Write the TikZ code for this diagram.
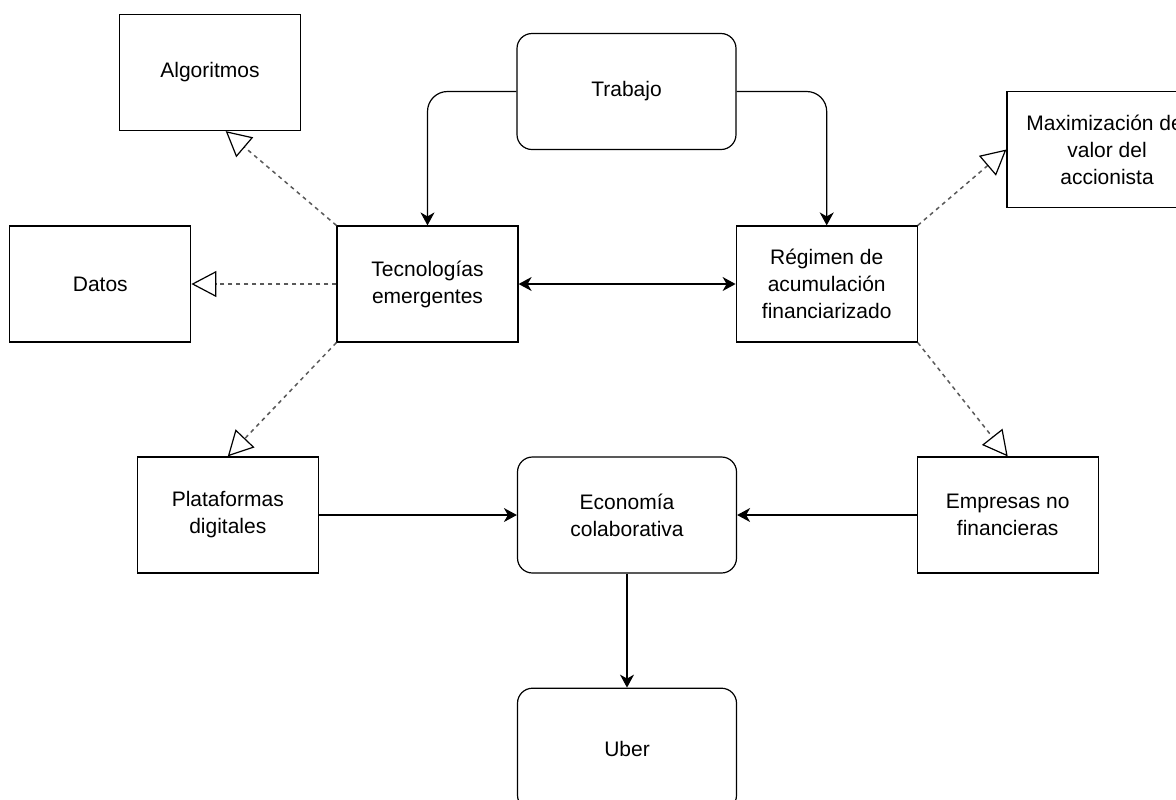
\documentclass[tikz,border=0pt]{standalone}
\usepackage{fontspec}
\setmainfont{Liberation Sans}
\usetikzlibrary{positioning,arrows.meta}

\begin{document}
\begin{tikzpicture}[
    x=0.5pt, y=-0.5pt,
    font=\fontsize{10.5}{13.5}\selectfont,
    >={Stealth[length=6.5pt, width=7pt, inset=2pt]},
    box/.style={draw, line width=0.6pt, minimum width=90.5pt, minimum height=58pt, align=center, inner sep=1pt},
    roundbox/.style={box, rounded corners=7.5pt, minimum width=109.5pt},
    link/.style={->, line width=0.6pt},
    dep/.style={-{Triangle[open, length=12.5pt, width=13pt, color=black, fill=white, line width=0.6pt]}, line width=0.75pt, draw=black!65, dash pattern=on 2pt off 2pt},
  ]
    \useasboundingbox (0,0) rectangle (1176,799);

    \node[box] (tec) at (427.5,284) {Tecnologías\\emergentes};
    \node[box, right=108.5pt of tec] (reg) {Régimen de\\acumulación\\financiarizado};
    \node[box, left=72.5pt of tec] (datos) {Datos};
    \node[box] (alg) at (210,72.5) {Algoritmos};
    \node[box, minimum width=100pt] (max) at (1107,149.5) {Maximización del\\valor del\\accionista};
    \node[roundbox] (trab) at (626.5,91.5) {Trabajo};

    \node[roundbox] (eco) at (627,515) {Economía\\colaborativa};
    \node[box, left=99pt of eco] (plat) {Plataformas\\digitales};
    \node[box, right=89.75pt of eco] (emp) {Empresas no\\financieras};
    \node[roundbox, below=57pt of eco, minimum height=61pt] (uber) {Uber};

    \draw[link, rounded corners=10pt] (trab.west) -| (tec.north);
    \draw[link, rounded corners=10pt] (trab.east) -| (reg.north);
    \draw[link, <->, line width=0.7pt] (tec) -- (reg);

    \draw[dep] (tec.north west) -- (alg.-75);
    \draw[dep] (tec.west) -- (datos.east);
    \draw[dep] (tec.south west) -- (plat.north);
    \draw[dep] (reg.north east) -- (max.west);
    \draw[dep] (reg.south east) -- (emp.north);

    \draw[link] (plat) -- (eco);
    \draw[link] (emp) -- (eco);
    \draw[link] (eco) -- (uber);
  \end{tikzpicture}
\end{document}
